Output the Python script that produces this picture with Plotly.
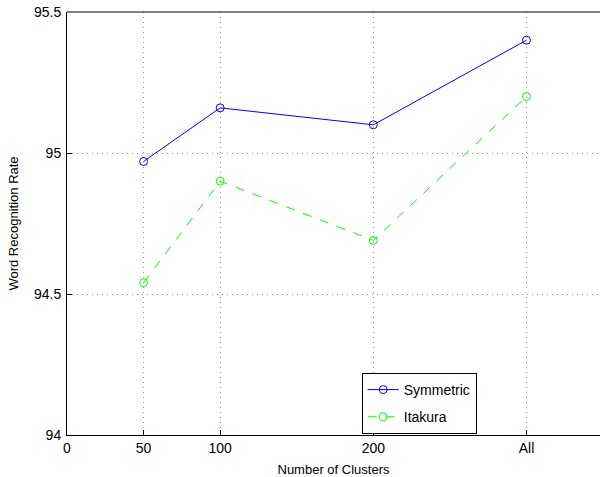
import plotly.graph_objects as go

x_pos = [50, 100, 200, 300]
tick_vals = [0, 50, 100, 200, 300]
tick_text = ["0", "50", "100", "200", "All"]
symmetric = [94.97, 95.16, 95.10, 95.40]
itakura = [94.54, 94.90, 94.69, 95.20]

fig = go.Figure()
fig.add_trace(go.Scatter(
    x=x_pos, y=symmetric, name="Symmetric", mode="lines+markers",
    line=dict(color="#0000ff", width=1),
    marker=dict(symbol="circle-open", size=8, color="#0000ff", line=dict(width=1)),
    legendgroup="a"))
fig.add_trace(go.Scatter(
    x=x_pos, y=itakura, name="Itakura", mode="lines+markers",
    line=dict(color="#00ff00", width=1, dash="dash"),
    marker=dict(symbol="circle-open", size=8, color="#00ff00", line=dict(width=1)),
    legendgroup="b"))

fam = "Liberation Sans, Arial, sans-serif"
fig.update_layout(
    width=600, height=477,
    margin=dict(l=67, r=0, t=12, b=42, autoexpand=False),
    paper_bgcolor="white", plot_bgcolor="white",
    font=dict(family=fam, size=14, color="black"),
    showlegend=True,
    legend=dict(x=0.553, y=0.1466, xanchor="left", yanchor="top",
                bgcolor="white", bordercolor="black", borderwidth=1,
                traceorder="grouped", tracegroupgap=6, itemwidth=31,
                font=dict(family=fam, size=14)),
    xaxis=dict(range=[0, 348], tickvals=tick_vals, ticktext=tick_text,
               automargin=False,
               showline=True, linecolor="black", linewidth=1, mirror=False,
               ticks="inside", ticklen=5, tickcolor="black",
               tickfont=dict(size=14),
               showgrid=True, gridcolor="#999999", griddash="1px,4px", gridwidth=1,
               zeroline=False,
               title=dict(text="Number of Clusters", font=dict(size=13), standoff=12)),
    yaxis=dict(range=[94, 95.5], tickvals=[94, 94.5, 95, 95.5],
               ticktext=["94", "94.5", "95", "95.5"],
               automargin=False, ticklabeloverflow="allow",
               showline=True, linecolor="black", linewidth=1, mirror=False,
               ticks="inside", ticklen=5, tickcolor="black",
               tickfont=dict(size=14), ticklabelstandoff=2,
               showgrid=True, gridcolor="#999999", griddash="1px,4px", gridwidth=1,
               zeroline=False,
               title=dict(text="Word Recognition Rate", font=dict(size=13), standoff=12)),
)
fig.add_shape(type="line", xref="paper", yref="paper", x0=0, x1=1, y0=1, y1=1,
              line=dict(color="black", width=1))
fig.write_html("out.html", config={"displayModeBar": False},
               post_script="document.body.style.margin='0';document.body.style.overflow='hidden';")
